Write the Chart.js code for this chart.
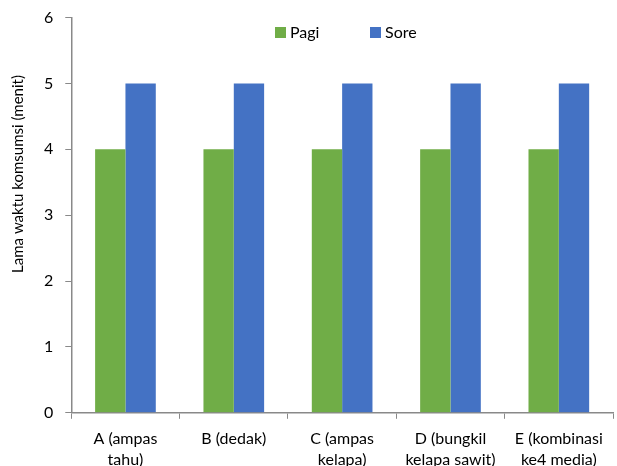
<!DOCTYPE html>
<html>
<head>
<meta charset="utf-8">
<script src="https://cdn.jsdelivr.net/npm/chart.js@4"></script>
<style>
  html, body { margin: 0; padding: 0; background: #fff; overflow: hidden; }
  #wrap { width: 617px; height: 484px; margin-top: -4px; }
</style>
</head>
<body>
<div id="wrap"><canvas id="chart"></canvas></div>
<script>
const categories = [
  ['A (ampas', 'tahu)'],
  ['B (dedak)'],
  ['C (ampas', 'kelapa)'],
  ['D (bungkil', 'kelapa sawit)'],
  ['E (kombinasi', 'ke4 media)']
];
const pagi = [4, 4, 4, 4, 4];
const sore = [5, 5, 5, 5, 5];
const yTitle = 'Lama waktu komsumsi (menit)';

const FONT = 'Lato, "Open Sans", sans-serif';
const axisColor = '#898989';

// legend and y title drawn by hand, placed like the original
const extras = {
  id: 'extras',
  afterDraw(chart) {
    const ctx = chart.ctx;
    const legendX = [275, 370];
    ctx.save();
    ctx.font = '16px ' + FONT;
    ctx.textBaseline = 'middle';
    chart.data.datasets.forEach((ds, i) => {
      const x = legendX[i], y = 36;
      ctx.fillStyle = ds.backgroundColor;
      ctx.fillRect(x, y - 5, 11, 11);
      ctx.fillStyle = '#000';
      ctx.fillText(ds.label, x + 15, y + 1);
    });
    ctx.translate(18, 178);
    ctx.rotate(-Math.PI / 2);
    ctx.font = '15px ' + FONT;
    ctx.textAlign = 'center';
    ctx.fillText(yTitle, 0, 0);
    ctx.restore();
  }
};

new Chart(document.getElementById('chart'), {
  type: 'bar',
  data: {
    labels: categories,
    datasets: [
      { label: 'Pagi', data: pagi, backgroundColor: '#70AD47' },
      { label: 'Sore', data: sore, backgroundColor: '#4472C4' }
    ]
  },
  options: {
    responsive: true,
    maintainAspectRatio: false,
    animation: false,
    categoryPercentage: 0.56,
    barPercentage: 1,
    layout: { padding: { top: 5, right: 4, left: 32, bottom: 0 } },
    plugins: {
      legend: { display: false },
      tooltip: { enabled: false }
    },
    scales: {
      x: {
        grid: {
          offset: true,
          drawOnChartArea: false,
          color: axisColor,
          tickLength: 6
        },
        border: { color: axisColor, width: 1.5 },
        ticks: {
          color: '#000',
          font: { family: FONT, size: 16, lineHeight: 1.35 },
          padding: 9,
          maxRotation: 0,
          autoSkip: false
        }
      },
      y: {
        min: 0,
        max: 6,
        ticks: {
          stepSize: 1,
          color: '#000',
          font: { family: FONT, size: 16 },
          padding: 12
        },
        grid: {
          drawOnChartArea: false,
          color: axisColor,
          tickLength: 6
        },
        border: { color: axisColor, width: 1.5 }
      }
    }
  },
  plugins: [extras]
});
</script>
</body>
</html>
